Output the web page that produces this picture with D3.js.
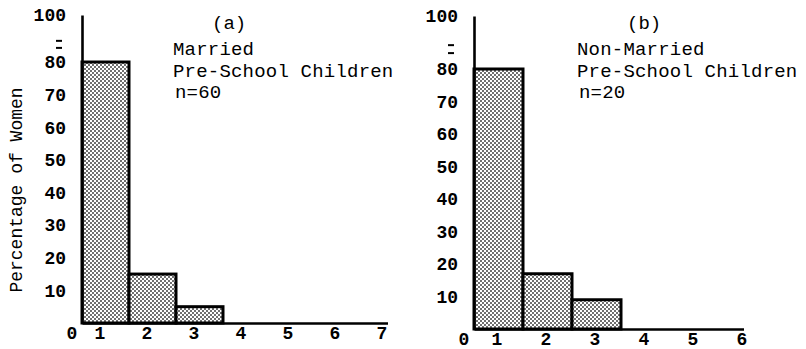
<!DOCTYPE html>
<html>
<head>
<meta charset="utf-8">
<script src="https://cdn.jsdelivr.net/npm/d3@7"></script>
<style>
  html, body { margin: 0; padding: 0; background: #fff; }
  svg { display: block; }
</style>
</head>
<body>
<svg id="chart" width="806" height="349"></svg>
<script>
// ---------- data ----------
const categoriesA = [1, 2, 3, 4, 5, 6, 7];
const valuesA = [80, 15, 5, 0, 0, 0, 0];
const categoriesB = [1, 2, 3, 4, 5, 6];
const valuesB = [80, 17, 9, 0, 0, 0];
const yTickValues = [10, 20, 30, 40, 50, 60, 70, 80, 100];
const breakMarks = [86, 89];
const panelLabelA = "(a)";
const panelLabelB = "(b)";
const titleLinesA = ["Married", "Pre-School Children", "n=60"];
const titleLinesB = ["Non-Married", "Pre-School Children", "n=20"];
const yAxisTitle = "Percentage of Women";
const originLabel = "0";

// ---------- drawing ----------
const svg = d3.select("#chart");
const MONO = "'Liberation Mono', 'DejaVu Sans Mono', monospace";

const defs = svg.append("defs");
const pat = defs.append("pattern")
  .attr("id", "stipple").attr("patternUnits", "userSpaceOnUse")
  .attr("width", 4).attr("height", 4);
pat.append("rect").attr("width", 4).attr("height", 4).attr("fill", "#fff");
pat.append("circle").attr("cx", 1).attr("cy", 1).attr("r", 0.95).attr("fill", "#333");
pat.append("circle").attr("cx", 3).attr("cy", 3).attr("r", 0.95).attr("fill", "#333");

function drawPanel(cfg) {
  const cats = cfg.categories, vals = cfg.values;
  const maxCat = d3.max(cats);
  const x = d3.scaleLinear().domain([0.5, maxCat]).range(cfg.xRange);
  const y = d3.scaleLinear().domain([0, 80, 100]).range(cfg.yRange);
  const g = svg.append("g");

  // bars
  g.selectAll("rect.bar")
    .data(cats.map((c, i) => ({ c, v: vals[i] })).filter(d => d.v > 0))
    .join("rect")
    .attr("class", "bar")
    .attr("x", d => x(d.c - 0.5))
    .attr("width", d => x(d.c + 0.5) - x(d.c - 0.5))
    .attr("y", d => y(d.v))
    .attr("height", d => y(0) - y(d.v))
    .attr("fill", "url(#stipple)")
    .attr("stroke", "#000")
    .attr("stroke-width", 3);

  // y axis
  const yAxis = d3.axisLeft(y).tickValues(yTickValues).tickSize(0)
    .tickSizeOuter(0).tickPadding(16).tickFormat(d3.format("d"));
  const gy = g.append("g").attr("transform", `translate(${x(0.5)},0)`).call(yAxis);
  gy.attr("font-family", null).attr("font-size", null);
  gy.select(".domain").attr("stroke", "#000").attr("stroke-width", 2.6);
  gy.selectAll("text").attr("font-family", MONO).attr("font-weight", "bold")
    .attr("font-size", 18).attr("fill", "#000");

  // axis break marks (short dashes between 80 and 100)
  gy.selectAll("line.brk").data(breakMarks).join("line")
    .attr("class", "brk")
    .attr("x1", -26).attr("x2", -20)
    .attr("y1", d => y(d)).attr("y2", d => y(d))
    .attr("stroke", "#000").attr("stroke-width", 2);

  // x axis
  const xAxis = d3.axisBottom(x).tickValues(cats).tickSize(0)
    .tickSizeOuter(0).tickPadding(cfg.xPad).tickFormat(d3.format("d"));
  const gx = g.append("g").attr("transform", `translate(0,${y(0)})`).call(xAxis);
  gx.attr("font-family", null).attr("font-size", null);
  gx.select(".domain").attr("stroke", "#000").attr("stroke-width", 2.6);
  gx.selectAll(".tick text").attr("font-family", MONO).attr("font-weight", "bold")
    .attr("font-size", 18).attr("fill", "#000").attr("dx", cfg.labelDx);
  gx.append("text")
    .attr("x", x(0.5) - 10).attr("y", cfg.xPad).attr("dy", "0.71em")
    .attr("text-anchor", "middle").attr("fill", "#000")
    .attr("font-family", MONO).attr("font-weight", "bold").attr("font-size", 18)
    .text(originLabel);

  // panel title
  g.append("text")
    .attr("x", cfg.labelX).attr("y", 29)
    .attr("font-family", MONO).attr("font-size", 19)
    .text(cfg.panelLabel);
  g.selectAll("text.title").data(cfg.titleLines).join("text")
    .attr("class", "title")
    .attr("x", (d, i) => cfg.titleX + (i === 2 ? 2 : 0))
    .attr("y", (d, i) => 55 + i * 21.5)
    .attr("font-family", MONO).attr("font-size", 19)
    .attr("letter-spacing", 0.2)
    .text(d => d);
}

drawPanel({
  categories: categoriesA, values: valuesA,
  xRange: [82, 82 + 6.5 * 47], yRange: [323, 62, 15],
  xPad: 3, labelDx: -6,
  panelLabel: panelLabelA, labelX: 212,
  titleLines: titleLinesA, titleX: 173
});
drawPanel({
  categories: categoriesB, values: valuesB,
  xRange: [474, 474 + 5.5 * 49], yRange: [329, 69, 16],
  xPad: 3, labelDx: -2,
  panelLabel: panelLabelB, labelX: 627,
  titleLines: titleLinesB, titleX: 577
});

// shared y-axis title
svg.append("text")
  .attr("transform", "translate(22,190) rotate(-90)")
  .attr("text-anchor", "middle")
  .attr("font-family", MONO).attr("font-size", 18)
  .text(yAxisTitle);
</script>
</body>
</html>
